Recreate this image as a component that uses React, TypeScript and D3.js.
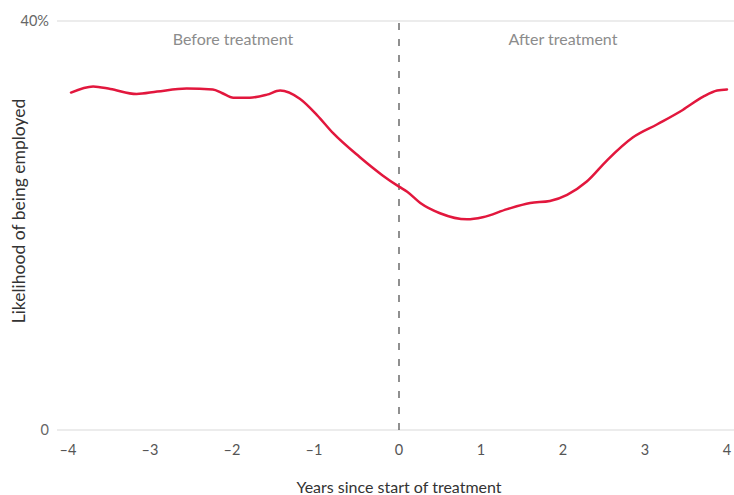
import { useEffect, useRef } from 'react';
import * as d3 from 'd3';

const WIDTH = 734;
const HEIGHT = 495;

// years since start of treatment vs likelihood of being employed (%)
const years = [
  -4.0, -3.73, -3.52, -3.2, -2.95, -2.59, -2.27, -2.16, -2.02, -1.82, -1.61,
  -1.45, -1.21, -1.0, -0.8, -0.48, -0.2, 0, 0.1, 0.26, 0.5, 0.83, 1.02, 1.32,
  1.6, 1.84, 2.05, 2.29, 2.54, 2.85, 3.15, 3.46, 3.71, 3.88, 4.0,
];
const employed = [
  33.0, 33.6, 33.35, 32.86, 33.1, 33.4, 33.3, 32.96, 32.5, 32.5, 32.8, 33.2,
  32.4, 30.8, 29.0, 26.7, 24.9, 23.8, 23.3, 22.2, 21.2, 20.6, 20.8, 21.6, 22.2,
  22.4, 23.0, 24.3, 26.4, 28.6, 29.9, 31.3, 32.6, 33.2, 33.3,
];
const xTicks = [-4, -3, -2, -1, 0, 1, 2, 3, 4];
const yTicks = [0, 40];
const periodLabels = ['Before treatment', 'After treatment'];

const FONT = 'Lato, "Open Sans", sans-serif';

export default function App() {
  const svgRef = useRef<SVGSVGElement>(null);

  useEffect(() => {
    if (!svgRef.current) return;
    const svg = d3.select(svgRef.current);
    svg.selectAll('*').remove();

    const x = d3.scaleLinear().domain([-4, 4]).range([71, 727]);
    const y = d3.scaleLinear().domain([0, 40]).range([430, 21]);

    // Gridlines + y labels
    yTicks.forEach((t) => {
      svg
        .append('line')
        .attr('x1', 57)
        .attr('x2', WIDTH)
        .attr('y1', y(t))
        .attr('y2', y(t))
        .attr('stroke', '#d9d9d9')
        .attr('stroke-width', 1);
      svg
        .append('text')
        .attr('x', 49)
        .attr('y', y(t) + 5)
        .attr('text-anchor', 'end')
        .attr('font-size', 14.5)
        .attr('fill', '#666')
        .text(t === 40 ? '40%' : String(t));
    });

    // x tick labels
    xTicks.forEach((t) => {
      svg
        .append('text')
        .attr('x', x(t) - (t < 0 ? 3 : 0))
        .attr('y', y(0) + 25)
        .attr('text-anchor', 'middle')
        .attr('font-size', 14.5)
        .attr('fill', '#555')
        .text(t < 0 ? `\u2013${Math.abs(t)}` : String(t));
    });

    // Treatment start
    svg
      .append('line')
      .attr('x1', x(0))
      .attr('x2', x(0))
      .attr('y1', y(40) + 2)
      .attr('y2', y(0))
      .attr('stroke', '#555')
      .attr('stroke-width', 1.3)
      .attr('stroke-dasharray', '7,9');

    // Period labels
    svg
      .append('text')
      .attr('x', (x(-4) + x(0)) / 2 - 2)
      .attr('y', 45)
      .attr('text-anchor', 'middle')
      .attr('font-size', 16)
      .attr('fill', '#8c8c8c')
      .text(periodLabels[0]);
    svg
      .append('text')
      .attr('x', (x(0) + x(4)) / 2)
      .attr('y', 45)
      .attr('text-anchor', 'middle')
      .attr('font-size', 16)
      .attr('fill', '#8c8c8c')
      .text(periodLabels[1]);

    // The line
    const line = d3
      .line<number>()
      .x((_, i) => x(years[i]))
      .y((d) => y(d))
      .curve(d3.curveMonotoneX);
    svg
      .append('path')
      .attr('d', line(employed))
      .attr('fill', 'none')
      .attr('stroke', '#e2173d')
      .attr('stroke-width', 2.5)
      .attr('stroke-linecap', 'round');

    // Axis titles
    svg
      .append('text')
      .attr('x', x(0))
      .attr('y', 493)
      .attr('text-anchor', 'middle')
      .attr('font-size', 16)
      .attr('fill', '#333')
      .text('Years since start of treatment');
    svg
      .append('text')
      .attr('transform', `translate(25,211) rotate(-90)`)
      .attr('text-anchor', 'middle')
      .attr('font-size', 17.5)
      .attr('fill', '#333')
      .text('Likelihood of being employed');
  }, []);

  return (
    <svg
      ref={svgRef}
      width={WIDTH}
      height={HEIGHT}
      style={{ position: 'absolute', left: 0, top: 0, fontFamily: FONT }}
    />
  );
}
